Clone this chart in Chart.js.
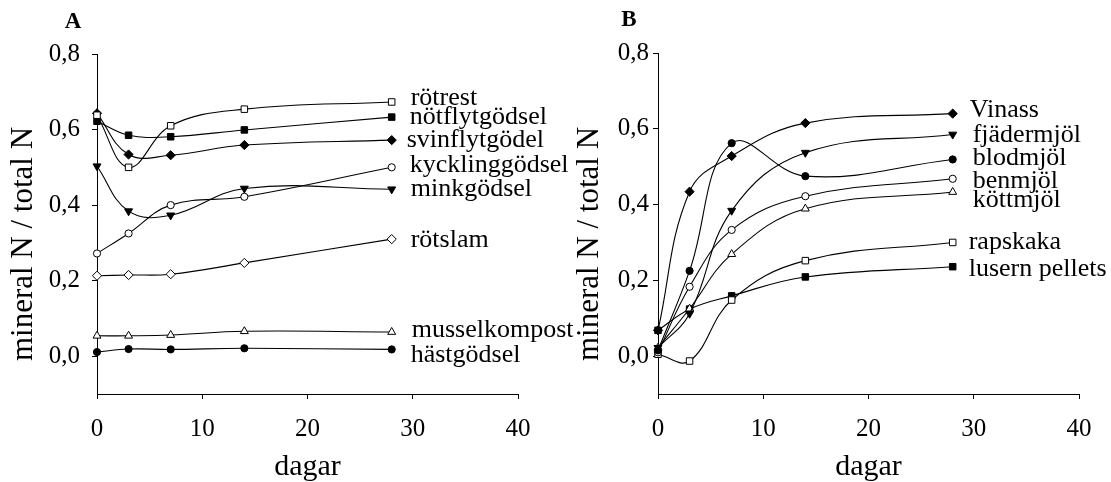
<!DOCTYPE html>
<html>
<head>
<meta charset="utf-8">
<script src="https://cdn.jsdelivr.net/npm/chart.js@4/dist/chart.umd.min.js"></script>
<style>
  html, body { margin: 0; padding: 0; background: #fff; }
  #wrap { position: relative; width: 1111px; height: 482px; background: #fff; overflow: hidden; }
  canvas { position: absolute; top: 0; }
  #ca { left: 0; }
  #cb { left: 555px; }
</style>
</head>
<body>
<div id="wrap">
  <canvas id="ca" width="640" height="482"></canvas>
  <canvas id="cb" width="556" height="482"></canvas>
</div>
<script>
// ---------- data ----------
const days = [0, 3, 7, 14, 28];
const xTicks = [0, 10, 20, 30, 40];
const yTicks = [0, 0.2, 0.4, 0.6, 0.8];
const xTitle = 'dagar';
const yTitle = 'mineral N / total N';
const panelNames = ['A', 'B'];

// Panel A
const namesA = ['rötrest', 'nötflytgödsel', 'svinflytgödel', 'kycklinggödsel', 'minkgödsel', 'rötslam', 'musselkompost', 'hästgödsel'];
const rotrest        = [0.638, 0.500, 0.610, 0.654, 0.673];
const notflytgodsel  = [0.622, 0.585, 0.581, 0.599, 0.633];
const svinflytgodel  = [0.643, 0.534, 0.532, 0.559, 0.572];
const kycklinggodsel = [0.272, 0.325, 0.400, 0.422, 0.500];
const minkgodsel     = [0.503, 0.384, 0.373, 0.444, 0.442];
const rotslam        = [0.213, 0.215, 0.217, 0.247, 0.310];
const musselkompost  = [0.054, 0.054, 0.056, 0.066, 0.064];
const hastgodsel     = [0.011, 0.019, 0.018, 0.021, 0.018];
const valuesA = [rotrest, notflytgodsel, svinflytgodel, kycklinggodsel, minkgodsel, rotslam, musselkompost, hastgodsel];

// Panel B
const namesB = ['Vinass', 'fjädermjöl', 'blodmjöl', 'benmjöl', 'köttmjöl', 'rapskaka', 'lusern pellets'];
const vinass     = [0.068, 0.434, 0.528, 0.615, 0.640];
const fjadermjol = [0.022, 0.112, 0.384, 0.537, 0.585];
const blodmjol   = [0.015, 0.225, 0.562, 0.475, 0.519];
const benmjol    = [0.010, 0.183, 0.333, 0.422, 0.468];
const kottmjol   = [0.022, 0.125, 0.269, 0.389, 0.433];
const rapskaka   = [0.005, -0.013, 0.148, 0.252, 0.300];
const lusern     = [0.068, 0.124, 0.159, 0.209, 0.236];
const valuesB = [vinass, fjadermjol, blodmjol, benmjol, kottmjol, rapskaka, lusern];

// ---------- styles ----------
// marker: [pointStyle, filled, rotation, radius]
const markersA = [
  ['rect', false, 0, 4.6], ['rect', true, 0, 4.6], ['rectRot', true, 0, 4.6], ['circle', false, 0, 3.6],
  ['triangle', true, 180, 4.6], ['rectRot', false, 0, 4.6], ['triangle', false, 0, 4.6], ['circle', true, 0, 3.6]
];
const markersB = [
  ['rectRot', true, 0, 4.6], ['triangle', true, 180, 4.6], ['circle', true, 0, 3.6], ['circle', false, 0, 3.6],
  ['triangle', false, 0, 4.6], ['rect', false, 0, 4.6], ['rect', true, 0, 4.6]
];
const labelDxA = [19, 18, 15, 18, 19, 19, 20, 19];
const labelDyA = [-4, 0, 0, -2, 0, 1, -2, 6];
const labelDxB = [17, 20, 20, 20, 20, 16, 16];
const labelDyB = [-3, 1, -1, 2, 8, 0, 2];

const FONT = "'Liberation Serif', 'Times New Roman', serif";

function makeDatasets(values, names, markers) {
  return values.map((vals, i) => {
    const m = markers[i];
    return {
      label: names[i],
      data: days.map((d, k) => ({ x: d, y: vals[k] })),
      borderColor: '#000',
      borderWidth: 1.1,
      tension: 0.4,
      fill: false,
      clip: false,
      pointStyle: m[0],
      pointRotation: m[2],
      pointRadius: m[3],
      pointHoverRadius: m[3],
      pointBackgroundColor: m[1] ? '#000' : '#fff',
      pointBorderColor: '#000',
      pointBorderWidth: 1
    };
  });
}

function makeChart(canvasId, values, names, markers, cfg) {
  const labelPlugin = {
    id: 'labels' + canvasId,
    afterDatasetsDraw(chart) {
      const ctx = chart.ctx;
      const area = chart.chartArea;
      ctx.save();
      ctx.fillStyle = '#000';
      ctx.font = '26px ' + FONT;
      ctx.textBaseline = 'middle';
      ctx.textAlign = 'left';
      chart.data.datasets.forEach((ds, i) => {
        const meta = chart.getDatasetMeta(i);
        const p = meta.data[meta.data.length - 1];
        ctx.fillText(names[i], p.x + cfg.dx[i], p.y + cfg.dy[i]);
      });
      // x axis title
      ctx.textAlign = 'center';
      ctx.font = '30px ' + FONT;
      ctx.fillText(xTitle, (area.left + area.right) / 2, cfg.xTitleY);
      // y axis title
      ctx.save();
      ctx.translate(cfg.yTitleX, cfg.yTitleY);
      ctx.rotate(-Math.PI / 2);
      ctx.textAlign = 'center';
      ctx.textBaseline = 'middle';
      ctx.font = '31px ' + FONT;
      ctx.fillText(yTitle, 0, 0);
      ctx.restore();
      // panel letter
      ctx.font = 'bold 23px ' + FONT;
      ctx.textAlign = 'center';
      ctx.textBaseline = 'middle';
      ctx.fillText(cfg.letter, cfg.letterX, cfg.letterY);
      ctx.restore();
    }
  };
  return new Chart(document.getElementById(canvasId), {
    type: 'line',
    data: { datasets: makeDatasets(values, names, markers) },
    plugins: [labelPlugin],
    options: {
      responsive: false,
      animation: false,
      events: [],
      layout: { padding: { top: cfg.top, right: cfg.right, left: 0, bottom: 0 } },
      plugins: { legend: { display: false }, tooltip: { enabled: false }, title: { display: false } },
      scales: {
        x: {
          type: 'linear',
          min: 0, max: 40,
          afterFit(s) { s.height = 88; },
          afterBuildTicks(s) { s.ticks = xTicks.map(v => ({ value: v })); },
          grid: { drawOnChartArea: false, drawTicks: true, tickLength: 5, color: '#000', tickWidth: 1 },
          border: { display: true, color: '#000', width: 1 },
          ticks: { color: '#000', font: { family: FONT, size: 25 }, padding: 15, maxRotation: 0, autoSkip: false,
                   callback: v => String(v) },
          title: { display: false }
        },
        y: {
          type: 'linear',
          min: -0.1, max: 0.8,
          afterFit(s) { s.width = cfg.yWidth; },
          afterBuildTicks(s) { s.ticks = yTicks.map(v => ({ value: v })); },
          grid: { drawOnChartArea: false, drawTicks: true, tickLength: 5, color: '#000', tickWidth: 1 },
          border: { display: true, color: '#000', width: 1 },
          ticks: { color: '#000', font: { family: FONT, size: 25 }, padding: cfg.yPad, autoSkip: false,
                   callback: v => v.toFixed(1).replace('.', ',') },
          title: { display: false }
        }
      }
    }
  });
}

makeChart('ca', valuesA, namesA, markersA, {
  top: 54, right: 640 - 518, yWidth: 97, yPad: 12, dx: labelDxA, dy: labelDyA, xTitleY: 467,
  yTitleX: 24, yTitleY: 244, letter: panelNames[0], letterX: 73, letterY: 22
});
makeChart('cb', valuesB, namesB, markersB, {
  top: 53, right: 32, yWidth: 103, yPad: 4, dx: labelDxB, dy: labelDyB, xTitleY: 467,
  yTitleX: 35, yTitleY: 244, letter: panelNames[1], letterX: 74, letterY: 20
});
</script>
</body>
</html>
